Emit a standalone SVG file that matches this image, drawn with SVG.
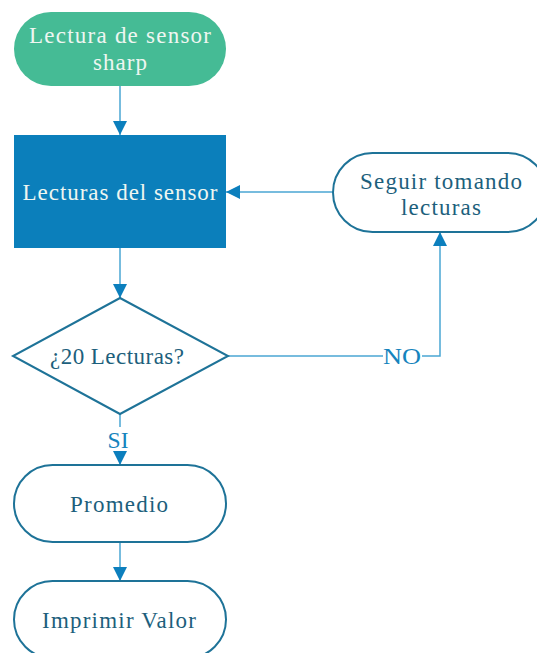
<svg xmlns="http://www.w3.org/2000/svg" width="537" height="653" viewBox="0 0 537 653">
<defs>
<style>
text{font-family:"Liberation Serif","Times New Roman",serif;font-size:23px;text-anchor:middle;}
.w{fill:#eef6f1;}
.d{fill:#1d5f7c;}
.pill{fill:#ffffff;stroke:#1e7398;stroke-width:2;}
.ln{fill:none;stroke:#4aa6d3;stroke-width:1.5;}
.lbl{fill:#1684bd;}
</style>
<marker id="ah" viewBox="0 0 14 14" refX="14" refY="7" markerWidth="14" markerHeight="14" markerUnits="userSpaceOnUse" orient="auto">
<path d="M0,0 L14,7 L0,14 Z" fill="#0c7fbd"/>
</marker>
</defs>
<rect width="537" height="653" fill="#ffffff"/>
<g id="connectors">
<line class="ln" x1="120" y1="86" x2="120" y2="135" marker-end="url(#ah)"/>
<line class="ln" x1="120" y1="248" x2="120" y2="298" marker-end="url(#ah)"/>
<line class="ln" x1="333" y1="192" x2="226" y2="192" marker-end="url(#ah)"/>
<polyline class="ln" points="228,356 383,356"/>
<polyline class="ln" points="422,356 440,356 440,232" marker-end="url(#ah)"/>
<line class="ln" x1="120" y1="414" x2="120" y2="427"/>
<line class="ln" x1="120" y1="452" x2="120" y2="465" marker-end="url(#ah)"/>
<line class="ln" x1="120" y1="542" x2="120" y2="581" marker-end="url(#ah)"/>
<text class="lbl" x="402" y="364" textLength="38" lengthAdjust="spacingAndGlyphs">NO</text>
<text class="lbl" x="118" y="448" textLength="21" lengthAdjust="spacingAndGlyphs">SI</text>
</g>
<g id="start">
<rect x="14" y="12" width="212" height="74" rx="37" fill="#45bb95"/>
<text class="w" x="120" y="43" textLength="182" lengthAdjust="spacing">Lectura de sensor</text>
<text class="w" x="120" y="70" textLength="54" lengthAdjust="spacing">sharp</text>
</g>
<g id="lecturas">
<rect x="14" y="135" width="212" height="113" fill="#0b7fbb"/>
<text class="w" x="120" y="200" textLength="195" lengthAdjust="spacing">Lecturas del sensor</text>
</g>
<g id="seguir">
<rect class="pill" x="333" y="153" width="214" height="79" rx="39.5"/>
<text class="d" x="441" y="189" textLength="162" lengthAdjust="spacing">Seguir tomando</text>
<text class="d" x="441" y="215" textLength="80" lengthAdjust="spacing">lecturas</text>
</g>
<g id="decision">
<polygon points="120,298 228,356 120,414 13,356" fill="#ffffff" stroke="#1e7398" stroke-width="2"/>
<text class="d" x="117" y="364" textLength="134" lengthAdjust="spacing">¿20 Lecturas?</text>
</g>
<g id="promedio">
<rect class="pill" x="14" y="465" width="212" height="77" rx="38.5"/>
<text class="d" x="119" y="512" textLength="98" lengthAdjust="spacing">Promedio</text>
</g>
<g id="imprimir">
<rect class="pill" x="14" y="581" width="212" height="77" rx="38.5"/>
<text class="d" x="119" y="628" textLength="154" lengthAdjust="spacing">Imprimir Valor</text>
</g>
</svg>
